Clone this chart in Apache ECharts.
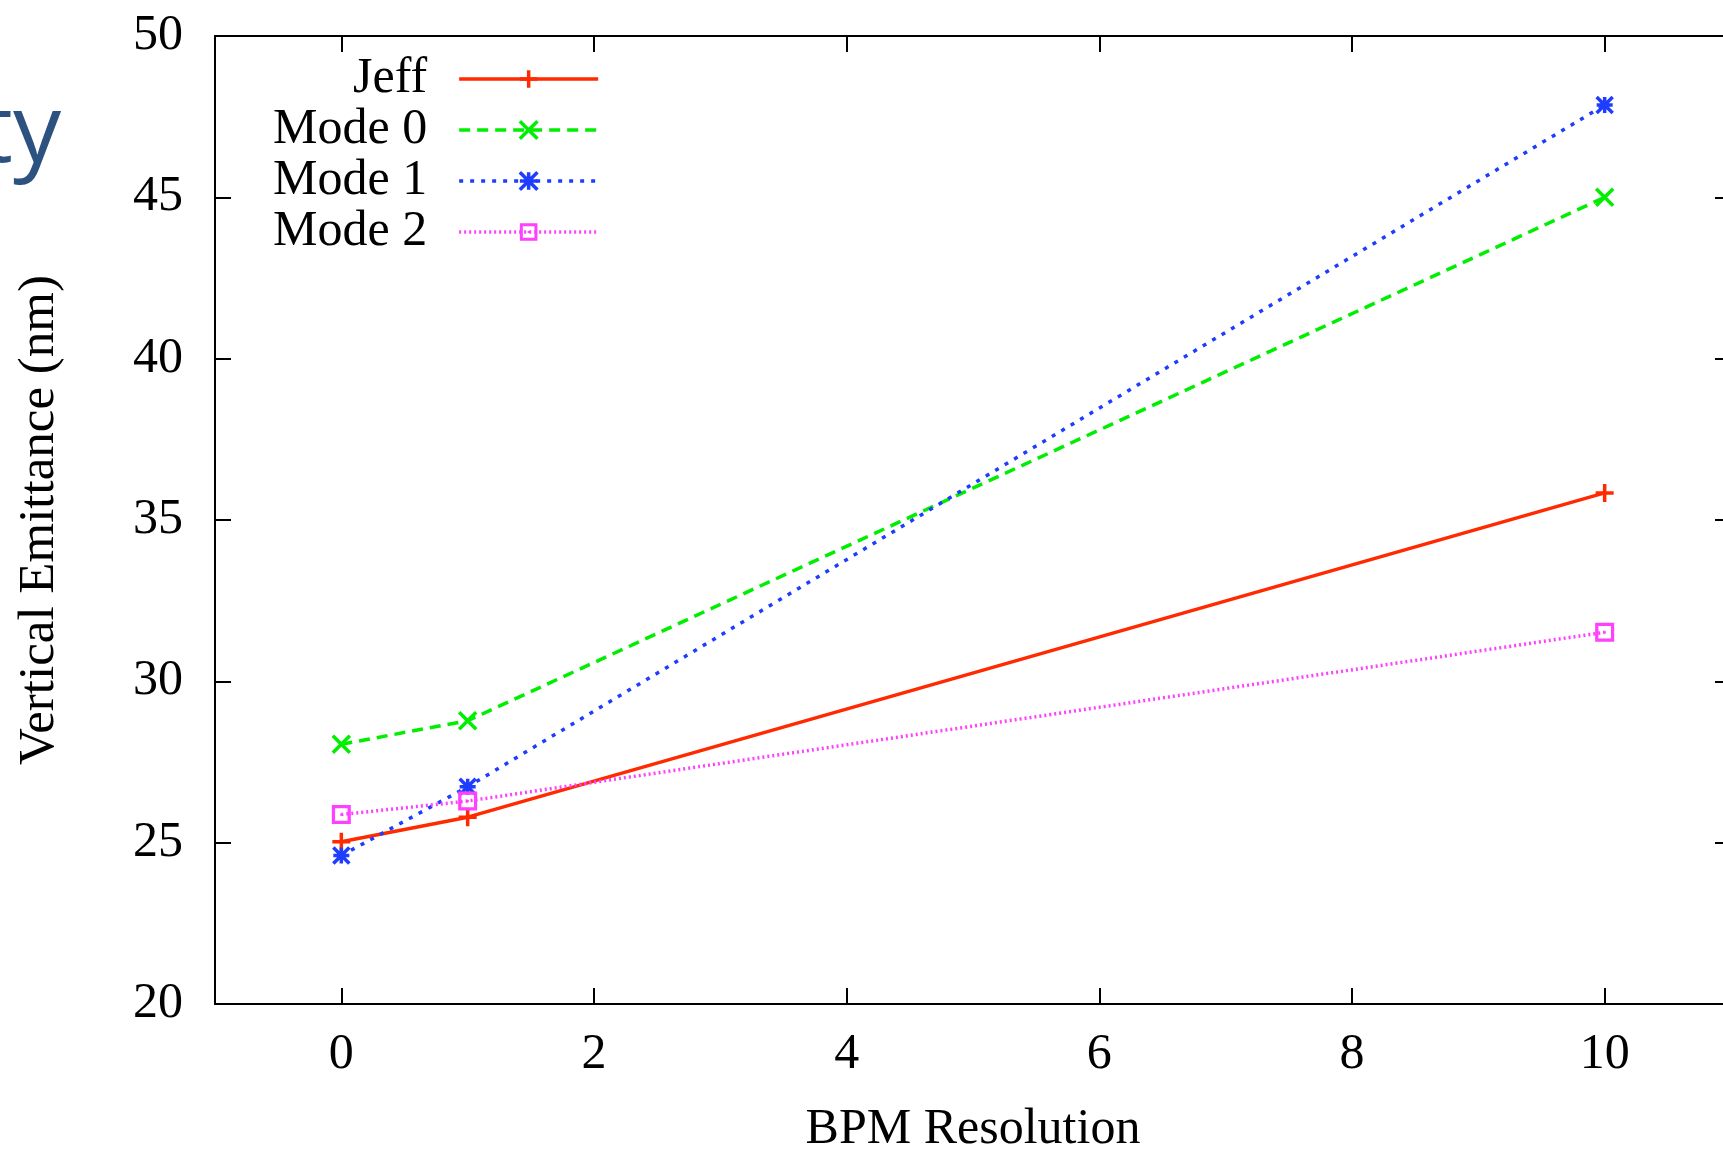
<!DOCTYPE html>
<html>
<head>
<meta charset="utf-8">
<script src="https://cdn.jsdelivr.net/npm/echarts@6/dist/echarts.min.js"></script>
<style>
  html, body { margin: 0; padding: 0; background: #fff; overflow: hidden; }
  #emitChart { width: 1760px; height: 1160px; }
</style>
</head>
<body>
<div id="emitChart"></div>
<script>
// BPM resolution vs vertical emittance
var resolution = [0, 1, 10];
var jeff = [25.03, 25.79, 35.84];
var mode0 = [28.05, 28.78, 45.0];
var mode1 = [24.6, 26.73, 47.86];
var mode2 = [25.87, 26.29, 31.52];
var xTicks = [0, 2, 4, 6, 8, 10];

var serif = 'Liberation Serif';
var plusPath = 'path://M0,5L10,5M5,0L5,10';
var crossPath = 'path://M0,0L10,10M10,0L0,10';
var starPath = 'path://M0,0L10,10M10,0L0,10M0,5L10,5M5,0L5,10';
var boxPath = 'path://M0,0L10,0L10,10L0,10Z M1.7,1.7L1.7,8.3L8.3,8.3L8.3,1.7Z M4.4,4.4L5.6,4.4L5.6,5.6L4.4,5.6Z';

function pairs(ys) {
  return resolution.map(function (x, i) { return [x, ys[i]]; });
}

function lineSeries(name, ys, color, dash, symbol, size, border) {
  return {
    name: name,
    type: 'line',
    data: pairs(ys),
    symbol: symbol,
    symbolSize: size,
    showAllSymbol: true,
    lineStyle: { color: color, width: 3.5, type: dash },
    itemStyle: { color: color, borderColor: color, borderWidth: border },
    emphasis: { disabled: true },
    z: 3
  };
}

var axisLine = { show: true, onZero: false, lineStyle: { color: '#000', width: 2 } };
var tick = { show: true, inside: true, length: 16, lineStyle: { color: '#000', width: 2 } };

var emitChart = echarts.init(document.getElementById('emitChart'));
emitChart.setOption({
  animation: false,
  backgroundColor: '#fff',
  grid: { left: 215, top: 36, right: 29, bottom: 148, containLabel: false },
  legend: {
    orient: 'vertical',
    align: 'right',
    left: 273,
    top: 54,
    padding: 0,
    itemGap: 1,
    itemWidth: 139,
    itemHeight: 22,
    selectedMode: false,
    lineStyle: { width: 3.5 },
    textStyle: { fontFamily: serif, fontSize: 50, color: '#000', lineHeight: 50, padding: [0, 27, 0, 0] },
    data: [
      { name: 'Jeff', itemStyle: { borderWidth: 3.5 } },
      { name: 'Mode 0', itemStyle: { borderWidth: 3.5 } },
      { name: 'Mode 1', itemStyle: { borderWidth: 3.5 } },
      { name: 'Mode 2', itemStyle: { borderWidth: 0 } }
    ]
  },
  xAxis: [{
    type: 'value',
    min: -1,
    max: 11,
    name: 'BPM Resolution',
    nameLocation: 'middle',
    nameGap: 101,
    nameTextStyle: { fontFamily: serif, fontSize: 50, color: '#000' },
    axisLine: axisLine,
    axisTick: Object.assign({ customValues: xTicks }, tick),
    axisLabel: { customValues: xTicks, fontFamily: serif, fontSize: 50, color: '#000', margin: 26 },
    splitLine: { show: false }
  }, {
    type: 'value',
    position: 'top',
    min: -1,
    max: 11,
    axisLine: axisLine,
    axisTick: Object.assign({ customValues: xTicks }, tick),
    axisLabel: { show: false },
    splitLine: { show: false }
  }],
  yAxis: [{
    type: 'value',
    min: 20,
    max: 50,
    interval: 5,
    name: 'Vertical Emittance (nm)',
    nameLocation: 'middle',
    nameRotate: 90,
    nameGap: 150,
    nameTextStyle: { fontFamily: serif, fontSize: 51, color: '#000' },
    axisLine: axisLine,
    axisTick: tick,
    axisLabel: { fontFamily: serif, fontSize: 50, color: '#000', margin: 32 },
    splitLine: { show: false }
  }, {
    type: 'value',
    position: 'right',
    min: 20,
    max: 50,
    interval: 5,
    axisLine: axisLine,
    axisTick: tick,
    axisLabel: { show: false },
    splitLine: { show: false }
  }],
  graphic: [{
    type: 'text',
    style: {
      text: 'ty',
      x: 61,
      y: 135,
      align: 'right',
      verticalAlign: 'middle',
      fontFamily: 'Open Sans',
      fontSize: 96,
      fill: '#2e5280'
    }
  }],
  series: [
    lineSeries('Jeff', jeff, '#ff2a00', 'solid', plusPath, 18, 3.5),
    lineSeries('Mode 0', mode0, '#00ee00', [11, 7], crossPath, 17, 3.5),
    lineSeries('Mode 1', mode1, '#1f3dff', [4, 7], starPath, 16, 3.5),
    lineSeries('Mode 2', mode2, '#ff40ff', [2, 3], boxPath, 19, 0)
  ]
});
</script>
</body>
</html>
